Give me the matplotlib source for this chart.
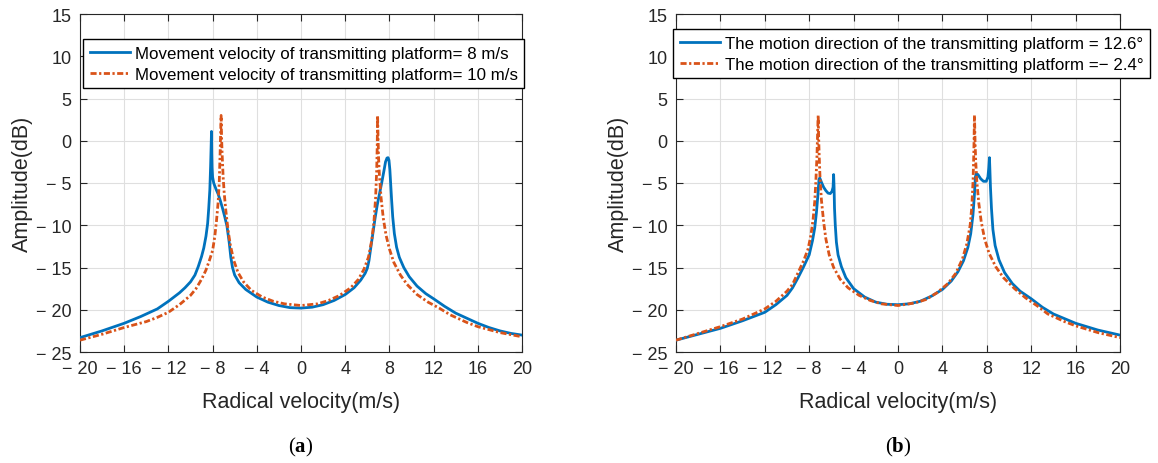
import matplotlib
matplotlib.use("Agg")
import matplotlib.pyplot as plt
from matplotlib.ticker import FixedLocator, FixedFormatter

plt.rcParams['font.family'] = ['Liberation Sans', 'DejaVu Sans']
plt.rcParams['mathtext.fontset'] = 'custom'
plt.rcParams['mathtext.rm'] = 'Liberation Serif'
plt.rcParams['mathtext.bf'] = 'Liberation Serif:bold'

# ---------------- data ----------------
x_ticks = [-20, -16, -12, -8, -4, 0, 4, 8, 12, 16, 20]
x_tick_labels = ["\u2212 20", "\u2212 16", "\u2212 12", "\u2212 8", "\u2212 4", "0", "4", "8", "12", "16", "20"]
y_ticks = [-25, -20, -15, -10, -5, 0, 5, 10, 15]
y_tick_labels = ["\u2212 25", "\u2212 20", "\u2212 15", "\u2212 10", "\u2212 5", "0", "5", "10", "15"]

xlabel_text = "Radical velocity(m/s)"
ylabel_text = "Amplitude(dB)"

# Panel (a): velocity 8 m/s (blue) and 10 m/s (orange)
a_blue_v = [-20, -18, -16, -14.5, -13, -12, -11, -10.5, -10, -9.6, -9.3, -9.0, -8.8, -8.6,
            -8.45, -8.35, -8.25, -8.18, -8.12, -8.1, -8.08, -8.05, -8.0, -7.9, -7.7, -7.5,
            -7.3, -7.1, -6.9, -6.7, -6.5, -6.35, -6.2, -6.0, -5.6, -5.0, -4.0, -3.0, -2.0,
            -1.0, 0, 1, 2, 3, 4, 4.8, 5.4, 5.8, 6.0, 6.15, 6.3, 6.5, 6.7, 6.9, 7.1, 7.3,
            7.5, 7.65, 7.78, 7.88, 7.96, 8.04, 8.12, 8.2, 8.3, 8.45, 8.65, 8.9, 9.3, 9.8,
            10.5, 11.3, 12, 13, 14, 15, 16, 17, 18, 19, 20]
a_blue_db = [-23.3, -22.5, -21.6, -20.8, -19.9, -19.0, -18.0, -17.4, -16.7, -15.9, -14.9, -13.7, -12.7, -11.3,
             -9.8, -8.0, -5.8, -3.0, 0.0, 1.1, -1.5, -3.2, -4.3, -5.0, -5.7, -6.3,
             -7.1, -8.0, -9.0, -10.1, -12.0, -13.8, -15.0, -15.9, -16.8, -17.6, -18.5, -19.1, -19.5,
             -19.75, -19.8, -19.7, -19.4, -18.9, -18.2, -17.4, -16.5, -15.7, -15.1, -14.2, -12.8, -11.0, -9.2, -7.6, -6.3, -5.0,
             -3.6, -2.5, -2.05, -2.0, -2.3, -3.4, -5.2, -7.0, -9.0, -11.0, -12.6, -13.8, -15.0, -16.1,
             -17.2, -18.1, -18.7, -19.6, -20.4, -21.0, -21.6, -22.1, -22.5, -22.8, -23.0]

a_orange_v = [-20, -18, -16, -14, -13, -12, -11, -10, -9.5, -9, -8.6, -8.3, -8.0, -7.8, -7.65,
              -7.5, -7.4, -7.32, -7.27, -7.23, -7.19, -7.14, -7.05, -6.95, -6.8, -6.6, -6.4,
              -6.1, -5.7, -5.2, -4.5, -3.5, -2.5, -1.5, 0, 1.5, 2.5, 3.5, 4.5, 5.2, 5.7, 6.1,
              6.4, 6.6, 6.75, 6.85, 6.9, 6.93, 6.97, 7.02, 7.1, 7.25, 7.45, 7.7, 8.0, 8.4,
              9.0, 9.6, 10.5, 11.5, 12.5, 13.5, 15, 16, 18, 20]
a_orange_db = [-23.6, -22.9, -22.1, -21.4, -20.9, -20.3, -19.4, -18.3, -17.5, -16.4, -15.3, -14.2, -13.0, -11.3, -9.5,
               -7.3, -5.0, -1.5, 1.0, 3.0, 0.5, -1.5, -4.2, -6.2, -8.3, -10.6, -12.3,
               -14.1, -15.6, -16.7, -17.7, -18.5, -19.0, -19.3, -19.5, -19.3, -18.9, -18.3, -17.4, -16.4, -15.2, -13.8,
               -11.8, -9.6, -6.8, -3.5, -0.5, 3.0, 0.5, -2.0, -4.2, -6.8, -9.2, -11.2, -12.8, -14.4,
               -15.9, -17.0, -18.2, -19.1, -19.8, -20.6, -21.5, -22.0, -22.7, -23.2]

# Panel (b): motion direction 12.6 deg (blue) and -2.4 deg (orange)
b_blue_v = [-20, -18, -16, -14, -12, -11, -10, -9.5, -9, -8.5, -8.0, -7.7, -7.5, -7.35, -7.22,
            -7.12, -7.05, -6.9, -6.7, -6.5, -6.3, -6.1, -5.95, -5.85, -5.8, -5.76, -5.72,
            -5.65, -5.55, -5.4, -5.1, -4.7, -4.0, -3.0, -2.0, -1.0, 0, 1, 2, 3, 4, 4.8, 5.4,
            5.9, 6.3, 6.55, 6.75, 6.88, 6.97, 7.05, 7.2, 7.45, 7.7, 7.95, 8.1, 8.18, 8.24,
            8.28, 8.33, 8.42, 8.55, 8.75, 9.1, 9.6, 10.3, 11, 12, 13, 14, 16, 18, 20]
b_blue_db = [-23.6, -22.9, -22.2, -21.3, -20.3, -19.4, -18.3, -17.4, -16.2, -14.9, -13.5, -11.8, -10.3, -8.5, -6.5,
             -4.6, -4.4, -4.9, -5.5, -5.9, -6.2, -6.25, -6.0, -5.5, -4.0, -5.5, -8.0,
             -10.0, -12.0, -13.5, -14.9, -16.2, -17.5, -18.5, -19.1, -19.35, -19.4, -19.3, -19.0, -18.4, -17.6, -16.6, -15.5,
             -14.2, -12.6, -11.0, -8.8, -6.5, -4.3, -3.9, -4.0, -4.5, -4.8, -4.8, -4.3, -3.2, -2.0,
             -3.5, -5.5, -8.0, -10.5, -12.4, -14.1, -15.6, -16.9, -17.8, -18.7, -19.7, -20.5, -21.6, -22.4, -23.0]

b_orange_v = [-20, -18, -16, -14, -12, -11, -10, -9.5, -9, -8.5, -8.1, -7.85, -7.65, -7.5, -7.4,
              -7.3, -7.24, -7.19, -7.15, -7.1, -7.02, -6.9, -6.7, -6.5, -6.2, -5.8, -5.2, -4.5,
              -3.5, -2.5, -1.5, 0, 1.5, 2.5, 3.5, 4.5, 5.2, 5.8, 6.2, 6.5, 6.65, 6.76, 6.83,
              6.89, 6.94, 7.0, 7.1, 7.28, 7.5, 7.8, 8.2, 8.8, 9.5, 10.5, 11.5, 12.5, 13.5, 15,
              16, 18, 20]
b_orange_db = [-23.6, -22.8, -22.0, -21.1, -19.9, -19.0, -17.8, -17.0, -15.6, -14.2, -12.8, -11.2, -9.3, -7.2, -4.8,
               -1.8, 1.0, 3.0, 0.5, -1.8, -4.5, -7.0, -9.6, -11.6, -13.5, -15.0, -16.4, -17.4,
               -18.3, -18.9, -19.3, -19.5, -19.2, -18.8, -18.0, -16.9, -15.7, -14.0, -12.2, -10.0, -7.8, -4.8, -1.5,
               3.0, 0.0, -2.4, -4.8, -7.4, -9.6, -11.6, -13.3, -14.9, -16.2, -17.5, -18.6, -19.5, -20.5, -21.4,
               -21.9, -22.7, -23.3]

a_labels = ["Movement velocity of transmitting platform= 8 m/s",
            "Movement velocity of transmitting platform= 10 m/s"]
b_labels = ["The motion direction of the transmitting platform = 12.6\u00b0",
            "The motion direction of the transmitting platform =\u2212 2.4\u00b0"]
panel_tags = [r"$\mathrm{(}\mathbf{a}\mathrm{)}$", r"$\mathrm{(}\mathbf{b}\mathrm{)}$"]

BLUE = "#0072BD"
ORANGE = "#D95319"

W, H = 1158, 464
fig = plt.figure(figsize=(W / 100, H / 100), dpi=100)

def px_rect(x0, x1, y0, y1):
    return [x0 / W, 1 - y1 / H, (x1 - x0) / W, (y1 - y0) / H]

ax_a = fig.add_axes(px_rect(80, 522, 15, 353))
ax_b = fig.add_axes(px_rect(676, 1120, 15, 353))

panels = [
    (ax_a, a_blue_v, a_blue_db, a_orange_v, a_orange_db, a_labels, (83, 40)),
    (ax_b, b_blue_v, b_blue_db, b_orange_v, b_orange_db, b_labels, (673, 30)),
]

for i, (ax, bv, bd, ov, od, labels, lpos) in enumerate(panels):
    ax.plot(bv, bd, color=BLUE, lw=2.0, label=labels[0], zorder=3)
    ax.plot(ov, od, color=ORANGE, lw=2.0, ls=(0, (2.2, 0.9, 0.8, 0.9)), label=labels[1], zorder=4)
    ax.set_xlim(-20, 20)
    ax.set_ylim(-25, 15)
    ax.xaxis.set_major_locator(FixedLocator(x_ticks))
    ax.xaxis.set_major_formatter(FixedFormatter(x_tick_labels))
    ax.yaxis.set_major_locator(FixedLocator(y_ticks))
    ax.yaxis.set_major_formatter(FixedFormatter(y_tick_labels))
    ax.tick_params(direction='in', length=5, width=0.8, top=True, right=True,
                   labelsize=13, colors='#262626', pad=6)
    ax.grid(True, color='#DFDFDF', lw=0.8)
    ax.set_axisbelow(True)
    for s in ax.spines.values():
        s.set_color('#262626')
        s.set_linewidth(0.8)
    ax.set_xlabel(xlabel_text, fontsize=15.5, color='#262626', labelpad=10)
    ax.set_ylabel(ylabel_text, fontsize=15.5, color='#262626', labelpad=2)
    leg = ax.legend(loc='upper left', bbox_to_anchor=(lpos[0] / W, 1 - lpos[1] / H),
                    bbox_transform=fig.transFigure, fontsize=12.2, frameon=True,
                    fancybox=False, framealpha=1, edgecolor='black', borderaxespad=0,
                    handlelength=2.4, handletextpad=0.25, borderpad=0.4, labelspacing=0.35)
    leg.get_frame().set_linewidth(1.0)
    leg.set_zorder(10)
    cx = (ax.get_position().x0 + ax.get_position().x1) / 2
    fig.text(cx, 1 - 447 / H, panel_tags[i], ha='center', va='center', fontsize=15)

fig.savefig("out.png", dpi=100)
